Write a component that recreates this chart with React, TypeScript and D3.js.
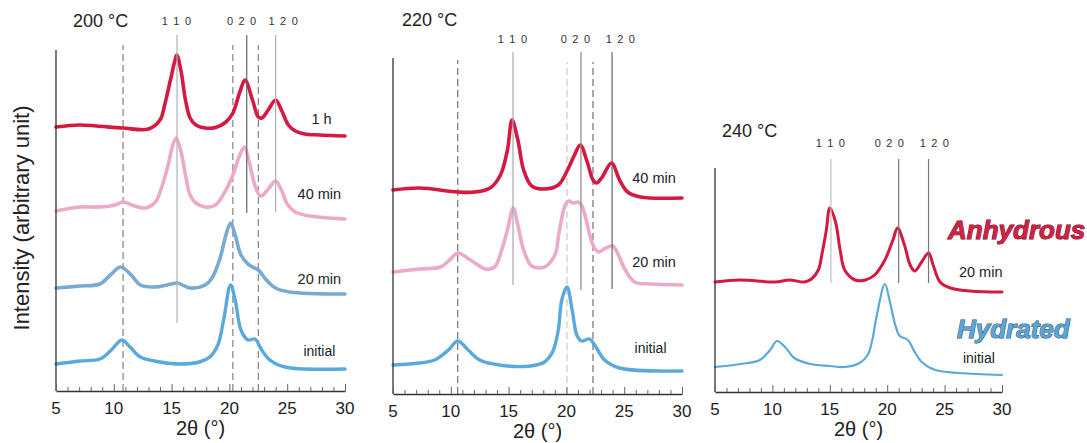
import * as d3 from 'd3';
import { useEffect, useRef } from 'react';

const fontFamily = '"Liberation Sans", Arial, Helvetica, sans-serif';
const red = '#d41a40';
const pink = '#eca9c8';
const blue20 = '#79aad2';
const blueInit = '#5aa9dc';

const xTickValues = d3.range(5, 31, 1);
const xTickLabels = [5, 10, 15, 20, 25, 30];
const hklLabels = ['1 1 0', '0 2 0', '1 2 0'];

// 200 °C curves, [2θ, intensity]
const c200_1h = [
  [5, 264], [7, 266], [8.5, 265], [10.8, 263], [13, 262], [14, 271], [14.4, 286], [14.9, 311], [15.3, 331],
  [15.45, 336], [15.8, 321], [16.2, 291], [16.6, 273], [17.1, 266], [17.9, 263], [18.8, 263.5], [19.7, 269],
  [20.3, 278], [20.9, 299], [21.35, 311], [22, 291], [22.5, 274], [22.8, 273], [23.3, 280], [24, 291],
  [24.5, 281], [25.1, 266], [25.7, 260], [26.5, 257], [27.8, 256], [30, 255],
];
const c200_40 = [
  [5, 180], [7.1, 184], [8.8, 184], [10.1, 186], [10.8, 189], [11.8, 185], [12.7, 183], [13.6, 189], [14.2, 206],
  [14.7, 226], [15.1, 246], [15.4, 253], [15.8, 240], [16.2, 216], [16.6, 196], [17.1, 188], [17.9, 184], [18.8, 186],
  [19.7, 201], [20.3, 216], [20.9, 236], [21.3, 244], [21.7, 230], [22.2, 206], [22.7, 195], [23.3, 201], [24, 210],
  [24.5, 201], [25, 187], [25.7, 179], [27, 175], [30, 172],
];
const c200_20 = [
  [5, 103], [7.1, 105], [8.8, 107], [9.7, 116], [10.6, 124], [11.5, 116], [12.3, 106], [13.6, 104], [15, 107],
  [15.5, 108], [16.6, 103], [17.9, 106], [18.5, 113], [19.2, 133], [19.7, 156], [20.1, 168], [20.5, 156],
  [21, 136], [21.7, 126], [22.5, 121], [23.2, 111], [24, 103], [25.2, 99], [30, 97],
];
const c200_init = [
  [5, 27], [7.1, 30], [8.8, 32], [9.7, 40], [10.7, 51], [11.4, 44], [12.3, 34], [14, 29], [15.7, 27], [17.4, 29],
  [18.3, 34], [19, 46], [19.5, 71], [20.1, 106], [20.5, 91], [21, 61], [21.6, 51], [22.2, 52], [22.8, 41],
  [23.5, 31], [24.8, 24], [30, 22],
];

// 220 °C curves
const c220_40 = [
  [5, 204], [7.3, 206], [10.6, 202], [12.1, 202], [13.4, 206], [14.3, 219], [14.9, 244], [15.3, 274], [15.8, 254],
  [16.3, 224], [17, 208], [18.1, 205], [19.3, 209], [20.1, 224], [20.7, 239], [21.2, 249], [21.8, 232],
  [22.3, 214], [22.6, 211], [23.1, 217], [23.9, 231], [24.6, 214], [25.3, 202], [26.4, 197], [30, 196],
];
const c220_20 = [
  [5, 122], [7.3, 125], [9.1, 127], [9.9, 134], [10.6, 141], [11.7, 134], [13, 125], [13.8, 127], [14.4, 144],
  [14.9, 164], [15.4, 186], [15.8, 169], [16.3, 144], [17, 128], [18.1, 127], [19, 139], [19.4, 164], [19.9, 189],
  [20.2, 193], [20.6, 191], [21, 192], [21.3, 189], [21.6, 179], [22.3, 149], [22.8, 142], [23.4, 146], [24, 148],
  [24.5, 139], [25, 126], [25.9, 112], [27.2, 110], [30, 109],
];
const c220_init = [
  [5, 29], [7.3, 31], [8.6, 34], [9.8, 44], [10.6, 53], [11.5, 44], [12.5, 34], [14.2, 29], [16.9, 28], [18.1, 32],
  [18.8, 42], [19.3, 64], [19.6, 94], [20.05, 107], [20.5, 84], [20.9, 59], [21.3, 53], [22, 55], [22.6, 46],
  [23.3, 34], [24.6, 26], [30, 23],
];

// 240 °C curves
const c240_20 = [
  [5, 110], [7.2, 112], [10.2, 110], [11.5, 112], [12.8, 110], [13.4, 113], [14, 122], [14.3, 137], [14.7, 162],
  [15, 184], [15.5, 170], [15.9, 142], [16.3, 122], [17.2, 112], [18.1, 112], [18.9, 117], [19.8, 132],
  [20.5, 152], [20.9, 164], [21.5, 147], [22, 127], [22.4, 121], [23, 130], [23.6, 139], [24, 127], [24.6, 110],
  [25.5, 104], [27.2, 101], [30, 100],
];
const c240_init = [
  [5, 25], [7.2, 28], [8.9, 32], [9.8, 42], [10.4, 51], [11.1, 45], [11.9, 34], [13.3, 28], [15, 26], [16.3, 25],
  [17.6, 29], [18.3, 37], [18.7, 52], [19.1, 77], [19.8, 108], [20.2, 92], [20.7, 67], [21.1, 56], [21.8, 52],
  [22.4, 40], [23, 30], [24.2, 22], [26.3, 19], [30, 17],
];

const panels = [
  {
    title: '200 °C', left: 56, right: 345, axisY: 391, topY: 50, titleAt: [73, 27], hklY: 25,
    hklPos: [15.47, 21.1, 24.7],
    solid: [
      { pos: 15.47, from: 68, to: 356, color: '#b0b0b0' },
      { pos: 21.5, from: 178, to: 356, color: '#666' },
      { pos: 24.0, from: 179, to: 356, color: '#b0b0b0' },
    ],
    dashed: [
      { pos: 10.8, to: 346, color: '#777' },
      { pos: 20.3, to: 346, color: '#777' },
      { pos: 22.5, to: 346, color: '#777' },
    ],
    curves: [
      { data: c200_init, color: blueInit, width: 3.4, label: 'initial', at: [26.4, 39], size: 14 },
      { data: c200_20, color: blue20, width: 3.6, label: '20 min', at: [25.9, 111], size: 14.5 },
      { data: c200_40, color: pink, width: 3.6, label: '40 min', at: [25.9, 196], size: 14.5 },
      { data: c200_1h, color: red, width: 3.6, label: '1 h', at: [27.1, 271], size: 14.5 },
    ],
  },
  {
    title: '220 °C', left: 393, right: 682, axisY: 394, topY: 58, titleAt: [402, 26], hklY: 43,
    hklPos: [15.38, 20.83, 24.72],
    solid: [
      { pos: 15.38, from: 109, to: 342, color: '#a8a8a8' },
      { pos: 21.26, from: 104, to: 342, color: '#8a8a8a' },
      { pos: 23.95, from: 105, to: 342, color: '#666' },
    ],
    dashed: [
      { pos: 10.6, to: 334, color: '#666' },
      { pos: 20.05, to: 332, color: '#c4c4c4' },
      { pos: 22.3, to: 332, color: '#666' },
    ],
    curves: [
      { data: c220_init, color: blueInit, width: 3.4, label: 'initial', at: [25.9, 45], size: 14 },
      { data: c220_20, color: pink, width: 3.6, label: '20 min', at: [25.7, 131], size: 14.5 },
      { data: c220_40, color: red, width: 3.6, label: '40 min', at: [25.7, 215], size: 14.5 },
    ],
  },
  {
    title: '240 °C', left: 715, right: 1002, axisY: 392, topY: 168, titleAt: [722, 137], hklY: 147,
    hklPos: [15.1, 20.24, 24.16],
    solid: [
      { pos: 15.1, from: 109, to: 233, color: '#c0c0c0' },
      { pos: 21.0, from: 109, to: 233, color: '#777' },
      { pos: 23.6, from: 109, to: 233, color: '#777' },
    ],
    dashed: [],
    curves: [
      { data: c240_init, color: blueInit, width: 2.2, label: 'initial', at: [26.6, 33], size: 14 },
      { data: c240_20, color: red, width: 3.0, label: '20 min', at: [26.25, 119], size: 14.5 },
    ],
  },
];

const App = () => {
  const svgRef = useRef(null);

  useEffect(() => {
    const svg = d3.select(svgRef.current);
    svg.selectAll('*').remove();
    svg.style('font-family', fontFamily);

    panels.forEach((panel) => {
      const x = d3.scaleLinear().domain([5, 30]).range([panel.left, panel.right]);
      const y = d3.scaleLinear().domain([0, panel.axisY - panel.topY]).range([panel.axisY, panel.topY]);
      const g = svg.append('g');

      // reference lines
      panel.dashed.forEach((ref) => {
        g.append('line')
          .attr('x1', x(ref.pos)).attr('x2', x(ref.pos))
          .attr('y1', y(0)).attr('y2', y(ref.to))
          .attr('stroke', ref.color).attr('stroke-width', 1.1)
          .attr('stroke-dasharray', '7,4');
      });

      const line = d3
        .line()
        .x((d) => x(d[0]))
        .y((d) => y(d[1]))
        .curve(d3.curveCatmullRom.alpha(0.5));

      panel.curves.forEach((curve) => {
        g.append('path')
          .datum(curve.data)
          .attr('fill', 'none')
          .attr('stroke', curve.color)
          .attr('stroke-width', curve.width)
          .attr('stroke-linejoin', 'round')
          .attr('stroke-linecap', 'round')
          .attr('d', line);

        g.append('text')
          .attr('x', x(curve.at[0]))
          .attr('y', y(curve.at[1]))
          .attr('dominant-baseline', 'middle')
          .attr('fill', '#222')
          .style('font-size', `${curve.size}px`)
          .text(curve.label);
      });

      panel.solid.forEach((ref) => {
        g.append('line')
          .attr('x1', x(ref.pos)).attr('x2', x(ref.pos))
          .attr('y1', y(ref.from)).attr('y2', y(ref.to))
          .attr('stroke', ref.color).attr('stroke-width', 1.2);
      });

      // hkl labels
      g.selectAll('text.hkl')
        .data(hklLabels)
        .join('text')
        .attr('class', 'hkl')
        .attr('x', (_, i) => x(panel.hklPos[i]))
        .attr('y', panel.hklY)
        .attr('text-anchor', 'middle')
        .attr('fill', '#333')
        .style('font-size', '11px')
        .style('letter-spacing', '1.2px')
        .text((d) => d);

      g.append('text')
        .attr('x', panel.titleAt[0])
        .attr('y', panel.titleAt[1])
        .attr('fill', '#222')
        .style('font-size', '18px')
        .text(panel.title);

      // axes
      g.append('line')
        .attr('x1', x(5)).attr('x2', x(5))
        .attr('y1', panel.topY).attr('y2', panel.axisY)
        .attr('stroke', '#333').attr('stroke-width', 1.3);

      g.append('g')
        .attr('transform', `translate(0, ${panel.axisY})`)
        .call(d3.axisBottom(x).tickValues(xTickValues).tickSizeInner(0).tickSizeOuter(0).tickFormat(''))
        .call((axis) => axis.select('.domain').attr('stroke', '#333').attr('stroke-width', 1.3))
        .call((axis) =>
          axis.selectAll('.tick line')
            .attr('y2', (d) => (d % 5 === 0 ? -7 : -4))
            .attr('stroke', '#666')
        );

      g.selectAll('text.tick-label')
        .data(xTickLabels)
        .join('text')
        .attr('class', 'tick-label')
        .attr('x', (d) => x(d))
        .attr('y', panel.axisY + 23)
        .attr('text-anchor', 'middle')
        .attr('fill', '#222')
        .style('font-size', '17px')
        .text((d) => d);

      g.append('text')
        .attr('x', (panel.left + panel.right) / 2)
        .attr('y', panel.axisY + 44)
        .attr('text-anchor', 'middle')
        .attr('fill', '#222')
        .style('font-size', '20px')
        .text('2θ (°)');
    });

    svg.append('text')
      .attr('transform', 'translate(29, 218) rotate(-90)')
      .attr('text-anchor', 'middle')
      .attr('fill', '#222')
      .style('font-size', '22px')
      .text('Intensity (arbitrary unit)');

    const legend = [
      { text: 'Anhydrous', x: 948, y: 239, fill: '#d41f45', stroke: '#5a0c1c' },
      { text: 'Hydrated', x: 957, y: 338, fill: '#5aa5d6', stroke: '#1f4a66' },
    ];
    legend.forEach((item) => {
      svg.append('text')
        .attr('x', item.x)
        .attr('y', item.y)
        .attr('fill', item.fill)
        .attr('stroke', item.stroke)
        .attr('stroke-width', 1)
        .attr('paint-order', 'stroke')
        .style('font-size', '26px')
        .style('font-weight', 'bold')
        .style('font-style', 'italic')
        .text(item.text);
    });
  }, []);

  return (
    <svg
      ref={svgRef}
      width={1087}
      height={443}
      style={{ position: 'absolute', left: 0, top: 0, background: '#fff' }}
    />
  );
};

export default App;
